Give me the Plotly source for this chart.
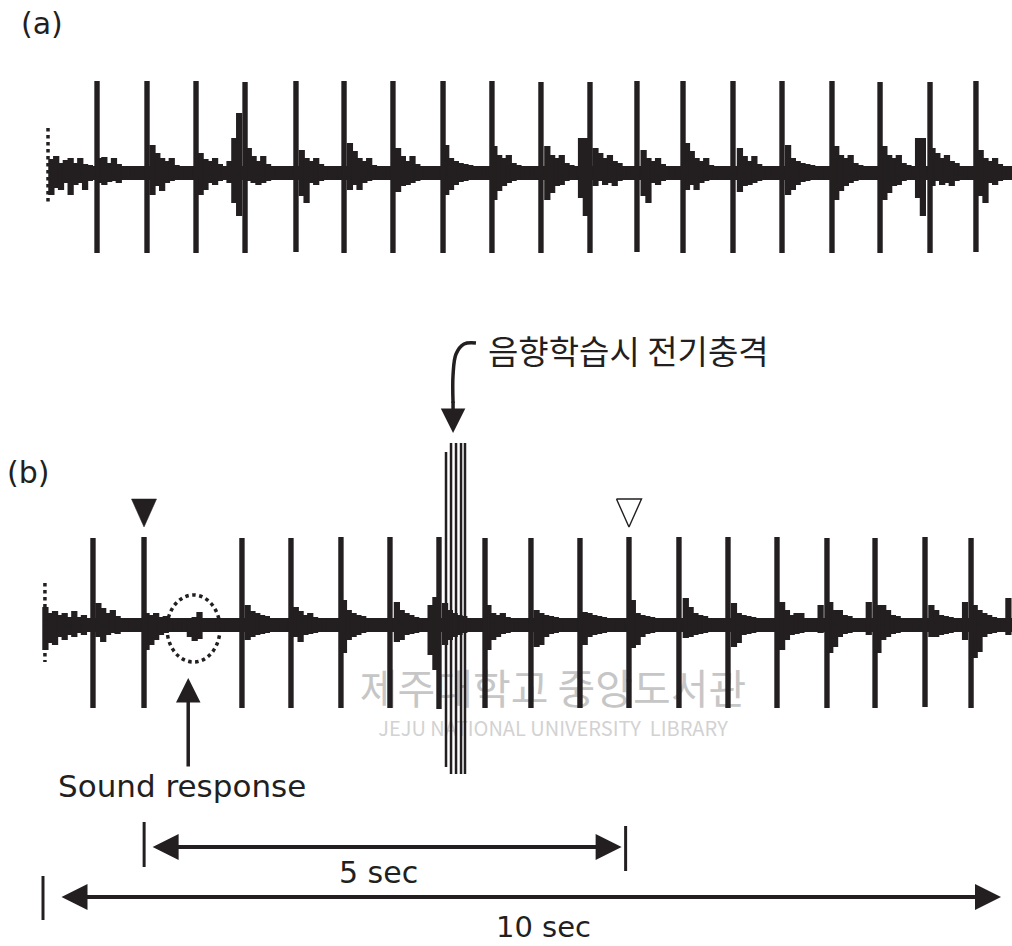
import plotly.graph_objects as go

# ---------------- layout constants ----------------
FIG_W, FIG_H = 1012, 946
PX_PER_S = 96.3          # horizontal scale, pixels per second
LEFT_PX = 43             # pixel position of t = 0
BIN = 0.05               # width of one sample block of the recordings (s)
INK = "#231f20"
KR_FONT = "Noto Sans CJK KR, sans-serif"
LAT_FONT = "DejaVu Sans, sans-serif"

# ---------------- recording (a): control ----------------
a_start, a_end = 0.062, 10.08
a_spike_t = [0.561, 1.080, 1.589, 2.098, 2.627, 3.126, 3.634, 4.154, 4.662, 5.171,
             5.680, 6.168, 6.646, 7.165, 7.674, 8.193, 8.692, 9.211, 9.688]
a_spike_up = [92, 92, 92, 91, 92, 92, 92, 92, 92, 91, 91, 92, 92, 92, 92, 92, 91, 91, 92]
a_spike_dn = [80, 80, 80, 80, 79, 80, 80, 80, 80, 80, 80, 79, 80, 80, 80, 80, 80, 80, 79]
a_lead_up = [14, 17, 10, 13, 15, 10, 15, 9, 8]
a_lead_dn = [22, 15, 17, 10, 22, 12, 10, 17, 8]
a_post_up = [
    [15, 16, 10, 15, 9, 7], [28, 20, 15, 12, 15, 8], [20, 14, 12, 15, 9, 7],
    [25, 17, 12, 17, 9, 7], [23, 15, 12, 15, 9, 7], [30, 22, 15, 12, 15, 8],
    [25, 17, 12, 17, 9, 7], [28, 15, 12, 10, 9, 8], [27, 18, 15, 18, 10, 8],
    [27, 18, 15, 18, 10, 8], [25, 20, 15, 18, 12, 10], [23, 15, 12, 15, 9, 7],
    [30, 22, 15, 12, 15, 8], [25, 17, 12, 17, 9, 7], [28, 15, 12, 10, 9, 8],
    [27, 18, 15, 18, 10, 8], [27, 18, 15, 18, 10, 8], [25, 20, 15, 18, 12, 10],
    [23, 15, 12, 15, 9, 7]]
a_post_dn = [
    [10, 12, 9, 8, 10, 7], [22, 13, 18, 10, 8, 7], [22, 17, 10, 12, 8, 7],
    [8, 10, 12, 10, 8, 6], [23, 30, 10, 12, 8, 7], [17, 12, 17, 10, 8, 7],
    [19, 13, 12, 10, 8, 7], [22, 17, 12, 9, 8, 7], [27, 18, 13, 10, 8, 7],
    [27, 20, 13, 12, 8, 7], [13, 8, 12, 10, 13, 8], [23, 30, 10, 12, 8, 7],
    [17, 12, 17, 10, 8, 7], [19, 13, 12, 10, 8, 7], [22, 17, 12, 9, 8, 7],
    [27, 18, 13, 10, 8, 7], [27, 20, 13, 12, 8, 7], [13, 8, 12, 10, 13, 8],
    [23, 30, 10, 12, 8, 7]]
# (spike index, amplitudes up, amplitudes down) just before a spike
a_pre = [(3, [12, 35, 60], [10, 30, 43]),
         (10, [35, 35], [25, 43]),
         (17, [35, 35], [25, 43])]
a_extra = []

# ---------------- recording (b): tone paired with shock ----------------
b_start, b_end = 0.0, 10.08
b_spike_t = [0.519, 1.049, 2.066, 2.575, 3.094, 3.603, 4.112, 4.590, 5.067, 5.576,
             6.085, 6.604, 7.113, 7.622, 8.141, 8.640, 9.159, 9.637]
b_spike_up = [87, 88, 87, 87, 88, 88, 88, 87, 87, 87, 88, 88, 88, 88, 87, 87, 88, 87]
b_spike_dn = [83, 83, 83, 83, 83, 83, 84, 83, 83, 83, 83, 83, 83, 83, 83, 83, 82, 83]
b_lead_up = [18, 12, 14, 10, 12, 8, 14, 8, 10]
b_lead_dn = [25, 18, 20, 12, 15, 10, 12, 8, 10]
b_post_up = [
    [22, 17, 12, 15, 9, 7], [12, 10, 12, 8, 9, 7], [20, 14, 12, 10, 9, 7],
    [18, 14, 10, 12, 8, 7], [25, 15, 12, 10, 9, 7], [23, 15, 12, 10, 8, 7],
    [22, 15, 12, 10, 9, 7], [20, 12, 10, 12, 8, 7], [15, 12, 10, 9, 8, 7],
    [13, 12, 10, 9, 8, 7], [25, 12, 10, 9, 8, 7], [27, 18, 12, 10, 9, 7],
    [22, 12, 10, 9, 8, 7], [23, 15, 10, 12, 8, 7], [23, 15, 15, 10, 9, 7],
    [20, 20, 15, 10, 9, 7], [20, 15, 10, 9, 8, 7], [20, 15, 12, 10, 8, 7]]
b_post_dn = [
    [12, 17, 10, 8, 9, 7], [25, 20, 15, 10, 8, 7], [15, 12, 10, 9, 8, 7],
    [12, 17, 10, 9, 8, 7], [28, 15, 12, 10, 8, 7], [17, 15, 10, 9, 8, 7],
    [20, 15, 12, 10, 8, 7], [25, 15, 12, 9, 8, 7], [22, 20, 12, 9, 8, 7],
    [20, 12, 10, 9, 8, 7], [23, 20, 12, 9, 8, 7], [13, 12, 10, 9, 8, 7],
    [22, 18, 10, 9, 8, 7], [25, 15, 10, 9, 8, 7], [28, 22, 12, 9, 8, 7],
    [28, 15, 12, 9, 8, 7], [12, 12, 10, 9, 8, 7], [33, 27, 12, 9, 8, 7]]
b_pre = [(6, [20, 28], [30, 45]), (14, [20], [8]), (15, [23], [10]), (17, [23], [15])]
# isolated blocks: (time, up, down); the first four are the sound response
b_extra = [(1.50, 5, 12), (1.55, 8, 16), (1.60, 13, 14), (1.65, 10, 10),
           (7.88, 12, 7), (10.02, 27, 10)]
sound_t = 1.568

# electric shocks delivered with the tone
stim_t = [4.185, 4.237, 4.289, 4.341, 4.382]
stim_up = [173, 182, 182, 182, 182]
stim_dn = [142, 149, 149, 149, 149]

BASE_HALF = 7           # half-thickness of the resting trace
window_marks = [1, 10]  # spikes in (b) flagged with the filled / open triangles


def build_band(t0, t1, lead_u, lead_d, spikes, post_u, post_d, pre, extra):
    n = int(round((t1 - t0) / BIN)) + 1
    centers = [t0 + BIN * (k + 0.5) for k in range(n)]
    up = [BASE_HALF] * n
    dn = [BASE_HALF] * n

    def put(k, u, d):
        if 0 <= k < n:
            up[k] = max(up[k], u)
            dn[k] = max(dn[k], d)

    for k, (u, d) in enumerate(zip(lead_u, lead_d)):
        put(k, u, d)
    for ts, pu, pd in zip(spikes, post_u, post_d):
        i = int((ts - t0) / BIN)
        for j, (u, d) in enumerate(zip(pu, pd)):
            put(i + 1 + j, u, d)
    for idx, pu, pd in pre:
        i = int((spikes[idx] - t0) / BIN)
        m = len(pu)
        for j, (u, d) in enumerate(zip(pu, pd)):
            put(i - m + j, u, d)
    for t, u, d in extra:
        put(int((t - t0) / BIN), u, d)
    return centers, up, dn


def bar_trace(xs, up, dn, yaxis, width):
    return go.Bar(x=xs, y=[u + d for u, d in zip(up, dn)], base=[-d for d in dn],
                  width=width, marker=dict(color=INK, line=dict(width=0)),
                  yaxis=yaxis, hoverinfo="skip")


fig = go.Figure()

ca, ua, da = build_band(a_start, a_end, a_lead_up, a_lead_dn, a_spike_t,
                        a_post_up, a_post_dn, a_pre, a_extra)
cb, ub, db = build_band(b_start, b_end, b_lead_up, b_lead_dn, b_spike_t,
                        b_post_up, b_post_dn, b_pre, b_extra)

# blocks are drawn slightly wider than their spacing so neighbours fuse
fig.add_trace(bar_trace(ca, ua, da, "y", BIN * 1.3))
fig.add_trace(bar_trace(a_spike_t, a_spike_up, a_spike_dn, "y", 0.056))
fig.add_trace(bar_trace(cb, ub, db, "y2", BIN * 1.3))
fig.add_trace(bar_trace(b_spike_t, b_spike_up, b_spike_dn, "y2", 0.056))
fig.add_trace(bar_trace(stim_t, stim_up, stim_dn, "y2", 0.026))

# dotted calibration edge at the start of each recording
fig.add_trace(go.Scatter(x=[a_start - 0.01] * 2, y=[45, -32], mode="lines", yaxis="y",
                         line=dict(color=INK, width=3.5, dash="dot"), cliponaxis=False))
fig.add_trace(go.Scatter(x=[b_start + 0.02] * 2, y=[42, -37], mode="lines", yaxis="y2",
                         line=dict(color=INK, width=3.5, dash="dot"), cliponaxis=False))

# triangles over the spikes that bound the 5 s window
TRI_HALF_W = 0.13       # s
TRI_TOP, TRI_TIP = 126, 98
for idx, filled in zip(window_marks, [True, False]):
    t = b_spike_t[idx]
    fig.add_trace(go.Scatter(
        x=[t - TRI_HALF_W, t + TRI_HALF_W, t, t - TRI_HALF_W],
        y=[TRI_TOP, TRI_TOP, TRI_TIP, TRI_TOP], mode="lines", yaxis="y2",
        fill="toself" if filled else "none", fillcolor=INK,
        line=dict(color=INK, width=0.5 if filled else 1.4), hoverinfo="skip"))

# curved pointer towards the shocks
curve_x = [4.496, 4.372, 4.289, 4.258, 4.258]
curve_y = [282, 281, 271, 250, 222]
fig.add_trace(go.Scatter(x=curve_x, y=curve_y, mode="lines", yaxis="y2",
                         line=dict(color=INK, width=3.5, shape="spline"), cliponaxis=False))

# scale bars
five_start = 1.05
five_len = 5
ten_start = 0
ten_len = 10
for xs, ys in [([five_start] * 2, [-197, -242]),
               ([five_start + five_len] * 2, [-201, -246]),
               ([ten_start] * 2, [-251, -295])]:
    fig.add_trace(go.Scatter(x=xs, y=ys, mode="lines", yaxis="y2",
                             line=dict(color=INK, width=3), cliponaxis=False))

lat = dict(size=30, color=INK, family=LAT_FONT)
annotations = [
    dict(text="(a)", x=42 / FIG_W, y=1 - 24 / FIG_H, xref="paper", yref="paper",
         xanchor="center", yanchor="middle", showarrow=False, font=lat),
    dict(text="(b)", x=28 / FIG_W, y=1 - 472 / FIG_H, xref="paper", yref="paper",
         xanchor="center", yanchor="middle", showarrow=False, font=lat),
    dict(text="음향학습시 전기충격", x=4.60, y=275, xref="x", yref="y2",
         xanchor="left", yanchor="middle", showarrow=False,
         font=dict(size=33, color=INK, family=KR_FONT)),
    # arrowhead finishing the curved pointer
    dict(text="", x=4.258, y=192, ax=4.258, ay=225, xref="x", yref="y2",
         axref="x", ayref="y2", showarrow=True, arrowhead=2, arrowsize=1.4,
         arrowwidth=3.5, arrowcolor=INK),
    # sound response pointer
    dict(text="", x=sound_t - 0.06, y=-53, ax=sound_t - 0.06, ay=-143, xref="x", yref="y2",
         axref="x", ayref="y2", showarrow=True, arrowhead=2, arrowsize=1.4,
         arrowwidth=3.5, arrowcolor=INK),
    dict(text="Sound response", x=sound_t - 0.125, y=-161, xref="x", yref="y2",
         showarrow=False, yanchor="middle", font=dict(size=31, color=INK, family=LAT_FONT)),
    # 5 s bar
    dict(text="", x=five_start + five_len, y=-222, ax=five_start, ay=-222,
         xref="x", yref="y2", axref="x", ayref="y2", showarrow=True,
         arrowside="end+start", arrowhead=2, startarrowhead=2, arrowsize=1.3,
         startarrowsize=1.3, arrowwidth=4, arrowcolor=INK, standoff=4, startstandoff=7),
    dict(text=f"{five_len} sec", x=3.48, y=-247, xref="x", yref="y2", showarrow=False,
         yanchor="middle", font=lat),
    # 10 s bar
    dict(text="", x=ten_start + ten_len, y=-272, ax=ten_start, ay=-272,
         xref="x", yref="y2", axref="x", ayref="y2", showarrow=True,
         arrowside="end+start", arrowhead=2, startarrowhead=2, arrowsize=1.3,
         startarrowsize=1.3, arrowwidth=4, arrowcolor=INK, standoff=5, startstandoff=17),
    dict(text=f"{ten_len} sec", x=5.2, y=-302, xref="x", yref="y2", showarrow=False,
         yanchor="middle", font=dict(size=29, color=INK, family=LAT_FONT)),
]

shapes = [
    # dotted ring around the sound response
    dict(type="circle", xref="x", yref="y2", x0=sound_t - 0.28, x1=sound_t + 0.27,
         y0=-37, y1=30, line=dict(color=INK, width=3.5, dash="dot")),
    # library watermark, kept beneath the recordings
    dict(type="rect", xref="paper", yref="paper", layer="below",
         x0=353 / FIG_W, x1=753 / FIG_W, y0=1 - 715 / FIG_H, y1=1 - 671 / FIG_H,
         line=dict(width=0), fillcolor="rgba(0,0,0,0)",
         label=dict(text="제주대학교 중앙도서관", textposition="middle center",
                    font=dict(size=41, color="#c6c6c6", family=KR_FONT))),
    dict(type="rect", xref="paper", yref="paper", layer="below",
         x0=353 / FIG_W, x1=753 / FIG_W, y0=1 - 742 / FIG_H, y1=1 - 718 / FIG_H,
         line=dict(width=0), fillcolor="rgba(0,0,0,0)",
         label=dict(text="JEJU NATIONAL UNIVERSITY  LIBRARY", textposition="middle center",
                    font=dict(size=20, color="#d2d2d2", family=KR_FONT))),
]

x_lo = (0 - LEFT_PX) / PX_PER_S
x_hi = (FIG_W - LEFT_PX) / PX_PER_S
fig.update_layout(
    width=FIG_W, height=FIG_H,
    margin=dict(l=0, r=0, t=0, b=0),
    paper_bgcolor="white", plot_bgcolor="rgba(0,0,0,0)",
    showlegend=False, barmode="overlay",
    xaxis=dict(range=[x_lo, x_hi], domain=[0, 1], visible=False, anchor="y2"),
    yaxis=dict(range=[-150, 150], domain=[1 - 323 / FIG_H, 1 - 23 / FIG_H],
               visible=False, anchor="x"),
    yaxis2=dict(range=[-321, 295], domain=[0, 1 - 330 / FIG_H], visible=False, anchor="x"),
    annotations=annotations, shapes=shapes,
)

fig.write_html("out.html")
